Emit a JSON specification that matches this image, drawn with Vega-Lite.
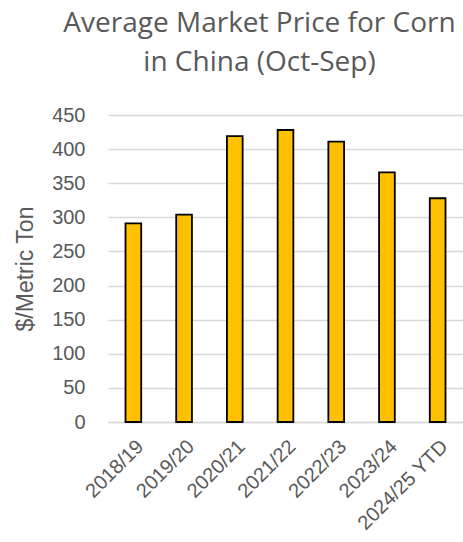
{
  "$schema": "https://vega.github.io/schema/vega-lite/v6.json",
  "width": 355,
  "height": 307,
  "autosize": {"type": "none"},
  "padding": {"left": 108, "top": 115, "right": 0, "bottom": 120},
  "background": "white",
  "title": {
    "text": ["Average Market Price for Corn", "in China (Oct-Sep)"],
    "anchor": "middle",
    "frame": "group",
    "dx": -26,
    "font": "Open Sans",
    "fontSize": 28,
    "fontWeight": "normal",
    "color": "#595959",
    "lineHeight": 39,
    "baseline": "alphabetic",
    "offset": 6
  },
  "data": {
    "values": [
      {"year": "2018/19", "price": 291},
      {"year": "2019/20", "price": 304},
      {"year": "2020/21", "price": 419},
      {"year": "2021/22", "price": 428},
      {"year": "2022/23", "price": 411},
      {"year": "2023/24", "price": 366},
      {"year": "2024/25 YTD", "price": 328}
    ]
  },
  "mark": {"type": "bar", "fill": "#FFC000", "stroke": "#000000", "strokeWidth": 1.8},
  "encoding": {
    "x": {
      "field": "year",
      "type": "nominal",
      "sort": null,
      "title": null,
      "scale": {"paddingInner": 0.69, "paddingOuter": 0.345},
      "axis": {
        "labelAngle": -45,
        "labelFont": "Liberation Sans",
        "labelFontSize": 20,
        "labelColor": "#595959",
        "labelPadding": 14,
        "ticks": false,
        "domainColor": "#d9d9d9",
        "domainWidth": 1.5
      }
    },
    "y": {
      "field": "price",
      "type": "quantitative",
      "title": "$/Metric Ton",
      "scale": {"domain": [0, 450], "nice": false},
      "axis": {
        "values": [0, 50, 100, 150, 200, 250, 300, 350, 400, 450],
        "domain": false,
        "ticks": false,
        "gridColor": "#d9d9d9",
        "gridWidth": 1.5,
        "labelFont": "Liberation Sans",
        "labelFontSize": 20,
        "labelColor": "#595959",
        "labelPadding": 23,
        "titleFont": "Liberation Sans",
        "titleFontSize": 23,
        "titleFontWeight": "normal",
        "titleColor": "#595959",
        "titlePadding": 14
      }
    }
  },
  "config": {"view": {"stroke": null}}
}
